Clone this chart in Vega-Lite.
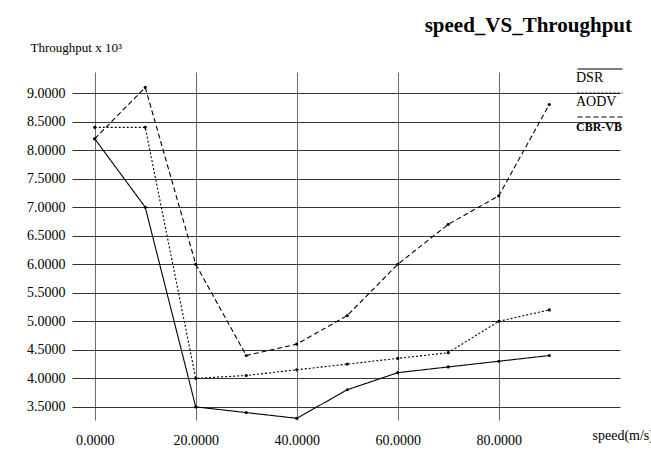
{
  "$schema": "https://vega.github.io/schema/vega-lite/v6.json",
  "width": 548,
  "height": 348,
  "autosize": "none",
  "padding": {"left": 72, "top": 72, "right": 31, "bottom": 35},
  "background": "white",
  "title": {
    "text": "speed_VS_Throughput",
    "anchor": "end",
    "frame": "group",
    "font": "Liberation Serif",
    "fontSize": 21,
    "fontWeight": "bold",
    "color": "black",
    "baseline": "bottom",
    "dx": 12,
    "dy": 22,
    "offset": 6
  },
  "data": {
    "values": [
      {"speed": 0, "protocol": "DSR", "throughput": 8.2},
      {"speed": 10, "protocol": "DSR", "throughput": 7.0},
      {"speed": 20, "protocol": "DSR", "throughput": 3.5},
      {"speed": 30, "protocol": "DSR", "throughput": 3.4},
      {"speed": 40, "protocol": "DSR", "throughput": 3.3},
      {"speed": 50, "protocol": "DSR", "throughput": 3.8},
      {"speed": 60, "protocol": "DSR", "throughput": 4.1},
      {"speed": 70, "protocol": "DSR", "throughput": 4.2},
      {"speed": 80, "protocol": "DSR", "throughput": 4.3},
      {"speed": 90, "protocol": "DSR", "throughput": 4.4},
      {"speed": 0, "protocol": "AODV", "throughput": 8.4},
      {"speed": 10, "protocol": "AODV", "throughput": 8.4},
      {"speed": 20, "protocol": "AODV", "throughput": 4.0},
      {"speed": 30, "protocol": "AODV", "throughput": 4.05},
      {"speed": 40, "protocol": "AODV", "throughput": 4.15},
      {"speed": 50, "protocol": "AODV", "throughput": 4.25},
      {"speed": 60, "protocol": "AODV", "throughput": 4.35},
      {"speed": 70, "protocol": "AODV", "throughput": 4.45},
      {"speed": 80, "protocol": "AODV", "throughput": 5.0},
      {"speed": 90, "protocol": "AODV", "throughput": 5.2},
      {"speed": 0, "protocol": "CBR-VB", "throughput": 8.2},
      {"speed": 10, "protocol": "CBR-VB", "throughput": 9.1},
      {"speed": 20, "protocol": "CBR-VB", "throughput": 6.0},
      {"speed": 30, "protocol": "CBR-VB", "throughput": 4.4},
      {"speed": 40, "protocol": "CBR-VB", "throughput": 4.6},
      {"speed": 50, "protocol": "CBR-VB", "throughput": 5.1},
      {"speed": 60, "protocol": "CBR-VB", "throughput": 6.0},
      {"speed": 70, "protocol": "CBR-VB", "throughput": 6.7},
      {"speed": 80, "protocol": "CBR-VB", "throughput": 7.2},
      {"speed": 90, "protocol": "CBR-VB", "throughput": 8.8}
    ]
  },
  "encoding": {
    "x": {
      "field": "speed",
      "type": "quantitative",
      "scale": {"domain": [-4.5, 104], "nice": false, "zero": false},
      "axis": {
        "values": [0, 20, 40, 60, 80],
        "format": ".4f",
        "title": "speed(m/s)",
        "titleX": 520,
        "titleY": 19,
        "titleAlign": "left",
        "titleBaseline": "alphabetic",
        "titleFont": "Liberation Serif",
        "titleFontSize": 14,
        "titleFontWeight": "normal",
        "titleColor": "black",
        "domain": false,
        "ticks": false,
        "labelPadding": 13,
        "labelFont": "Liberation Serif",
        "labelFontSize": 14,
        "labelColor": "black",
        "grid": true,
        "gridColor": "#6b6b6b",
        "gridWidth": 1
      }
    },
    "y": {
      "field": "throughput",
      "type": "quantitative",
      "scale": {"domain": [3.27, 9.37], "nice": false, "zero": false},
      "axis": {
        "values": [3.5, 4.0, 4.5, 5.0, 5.5, 6.0, 6.5, 7.0, 7.5, 8.0, 8.5, 9.0],
        "format": ".4f",
        "title": "Throughput x 10³",
        "titleAngle": 0,
        "titleX": -42,
        "titleY": -21,
        "titleAlign": "left",
        "titleBaseline": "alphabetic",
        "titleFont": "Liberation Serif",
        "titleFontSize": 13,
        "titleFontWeight": "normal",
        "titleColor": "black",
        "domain": false,
        "ticks": false,
        "labelPadding": 7,
        "labelFont": "Liberation Serif",
        "labelFontSize": 14,
        "labelColor": "black",
        "grid": true,
        "gridColor": "#333333",
        "gridWidth": 1
      }
    },
    "strokeDash": {
      "field": "protocol",
      "type": "nominal",
      "scale": {"domain": ["DSR", "AODV", "CBR-VB"], "range": [[1, 0], [2, 2], [5, 3]]},
      "legend": {
        "title": null,
        "orient": "none",
        "legendX": 521,
        "legendY": -10,
        "symbolType": "M-5,0H5",
        "symbolSize": 81,
        "symbolStrokeWidth": 1.2,
        "symbolStrokeColor": "black",
        "symbolFillColor": "transparent",
        "labelOffset": -31,
        "labelBaseline": "top",
        "labelFont": "Liberation Serif",
        "labelFontSize": 14,
        "labelColor": "black",
        "rowPadding": 1,
        "encode": {
          "labels": {
            "update": {
              "fontWeight": {"signal": "datum.label === 'CBR-VB' ? 'bold' : 'normal'"},
              "fontSize": {"signal": "datum.label === 'CBR-VB' ? 12 : 14"},
              "dy": {"signal": "datum.label === 'CBR-VB' ? 5 : 2"}
            }
          }
        }
      }
    }
  },
  "layer": [
    {
      "mark": {"type": "line", "color": "black", "strokeWidth": 1.1}
    },
    {
      "mark": {"type": "point", "filled": true, "color": "black", "size": 10, "opacity": 1, "shape": "circle"},
      "encoding": {"strokeDash": {"value": [1, 0]}}
    }
  ],
  "config": {"view": {"stroke": null}}
}
